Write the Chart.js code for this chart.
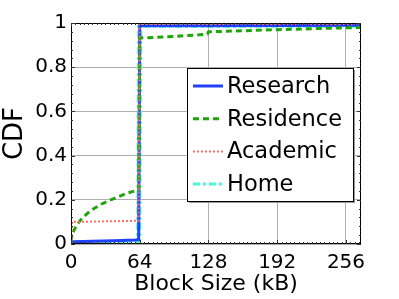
<!DOCTYPE html>
<html>
<head>
<meta charset="utf-8">
<script src="https://cdn.jsdelivr.net/npm/chart.js@4/dist/chart.umd.min.js"></script>
<style>
  html, body { margin: 0; padding: 0; background: #fff; }
  #wrap { width: 399px; height: 299px; position: relative; }
</style>
</head>
<body>
<div id="wrap"><canvas id="cdf"></canvas></div>
<script>
// valores (tamanho de bloco em kB -> CDF)
const researchX  = [0, 2, 20, 40, 60, 63, 64, 128, 270];
const researchY  = [0.01, 0.01, 0.012, 0.015, 0.018, 0.02, 0.987, 0.988, 0.99];

const residenceX = [0, 1, 3, 6, 10, 18, 28, 37, 45, 52, 63, 64, 96, 120, 127, 128, 192, 270];
const residenceY = [0.01, 0.04, 0.065, 0.09, 0.115, 0.15, 0.18, 0.2, 0.215, 0.23, 0.245, 0.932, 0.939, 0.947, 0.95, 0.96, 0.97, 0.98];

const academicX  = [0.5, 1, 63, 64, 270];
const academicY  = [0, 0.1, 0.105, 0.995, 0.995];

const homeX      = [0, 63, 64, 270];
const homeY      = [0.003, 0.008, 0.99, 0.99];

const xTicks = [0, 64, 128, 192, 256];
const yTicks = [0, 0.2, 0.4, 0.6, 0.8, 1];

const FONTE = 'DejaVu Sans';

function pontos(xs, ys) {
  return xs.map((x, i) => ({ x, y: ys[i] }));
}

// ordem: numero maior e desenhado primeiro (Home fica por baixo, mais largo)
const series = [
  { label: 'Research',  data: pontos(researchX, researchY),   cor: '#2040ff', dash: [],           larg: 3, ordem: 2 },
  { label: 'Residence', data: pontos(residenceX, residenceY), cor: '#1ea50a', dash: [6, 4],       larg: 3, ordem: 1 },
  { label: 'Academic',  data: pontos(academicX, academicY),   cor: '#ff6a6a', dash: [2, 2],       larg: 2, ordem: 0 },
  { label: 'Home',      data: pontos(homeX, homeY),           cor: '#40ffc8', dash: [7, 3, 3, 3], larg: 5, ordem: 3 }
];

const datasets = series.map(s => ({
  label: s.label, data: s.data, order: s.ordem,
  borderColor: s.cor, backgroundColor: s.cor,
  borderDash: s.dash, borderWidth: s.larg,
  pointRadius: 0, tension: 0, fill: false
}));

// caixa do grafico, ticks menores e legenda no estilo matlab
const moldura = {
  id: 'moldura',
  afterDatasetsDraw(chart) {
    const { ctx, chartArea: a, scales: { x, y } } = chart;
    ctx.save();
    ctx.strokeStyle = '#000';
    ctx.lineWidth = 1;
    ctx.setLineDash([]);
    ctx.strokeRect(a.left + 0.5, a.top + 0.5, a.right - a.left - 1, a.bottom - a.top - 1);

    ctx.strokeStyle = '#333';
    ctx.beginPath();
    for (let v = 0; v <= x.max; v += 4) {
      const px = Math.round(x.getPixelForValue(v)) + 0.5;
      const len = v % 64 === 0 ? 4 : 2;
      ctx.moveTo(px, a.bottom); ctx.lineTo(px, a.bottom - len);
      ctx.moveTo(px, a.top); ctx.lineTo(px, a.top + len);
    }
    for (let k = 0; k <= 25; k++) {
      const py = Math.round(y.getPixelForValue(k * 0.04)) + 0.5;
      const len = k % 5 === 0 ? 4 : 2;
      ctx.moveTo(a.left, py); ctx.lineTo(a.left + len, py);
      ctx.moveTo(a.right, py); ctx.lineTo(a.right - len, py);
    }
    ctx.stroke();

    // legenda
    const lx = 187, ly = 68, lw = 166, lh = 133;
    ctx.fillStyle = '#999';
    ctx.fillRect(lx + 2, ly + 2, lw, lh);
    ctx.fillStyle = '#fff';
    ctx.fillRect(lx, ly, lw, lh);
    ctx.strokeStyle = '#000';
    ctx.strokeRect(lx + 0.5, ly + 0.5, lw, lh);

    ctx.font = `22.5px "${FONTE}"`;
    ctx.textBaseline = 'middle';
    series.forEach((s, i) => {
      const cy = ly + 18 + i * 32.7;
      ctx.strokeStyle = s.cor;
      ctx.lineWidth = Math.min(s.larg, 3);
      ctx.setLineDash(s.dash);
      ctx.beginPath();
      ctx.moveTo(193, cy); ctx.lineTo(223, cy);
      ctx.stroke();
      ctx.setLineDash([]);
      ctx.fillStyle = '#000';
      ctx.fillText(s.label, 227, cy + 1);
    });
    ctx.restore();
  }
};

new Chart(document.getElementById('cdf'), {
  type: 'line',
  data: { datasets },
  options: {
    responsive: true,
    maintainAspectRatio: false,
    animation: false,
    layout: { padding: { left: 0, right: 38, top: 23, bottom: 0 } },
    plugins: { legend: { display: false }, tooltip: { enabled: false } },
    scales: {
      x: {
        type: 'linear', min: 0, max: 270,
        afterBuildTicks: s => { s.ticks = xTicks.map(v => ({ value: v })); },
        afterFit: s => { s.height = 55; },
        grid: { color: '#b0b0b0', borderDash: [1, 3], drawTicks: false },
        border: { display: false },
        ticks: { color: '#000', padding: 7, font: { family: FONTE, size: 20 }, maxRotation: 0 },
        title: { display: true, text: 'Block Size (kB)', color: '#000', padding: { top: 0, bottom: 2 }, font: { family: FONTE, size: 22 } }
      },
      y: {
        type: 'linear', min: 0, max: 1,
        afterBuildTicks: s => { s.ticks = yTicks.map(v => ({ value: v })); },
        afterFit: s => { s.width = 71; },
        grid: { color: '#b0b0b0', borderDash: [1, 3], drawTicks: false },
        border: { display: false },
        ticks: { color: '#000', padding: 4, font: { family: FONTE, size: 20 }, callback: v => String(+v.toFixed(1)) },
        title: { display: true, text: 'CDF', color: '#000', padding: { top: 0, bottom: 0 }, font: { family: FONTE, size: 26 } }
      }
    }
  },
  plugins: [moldura]
});
</script>
</body>
</html>
